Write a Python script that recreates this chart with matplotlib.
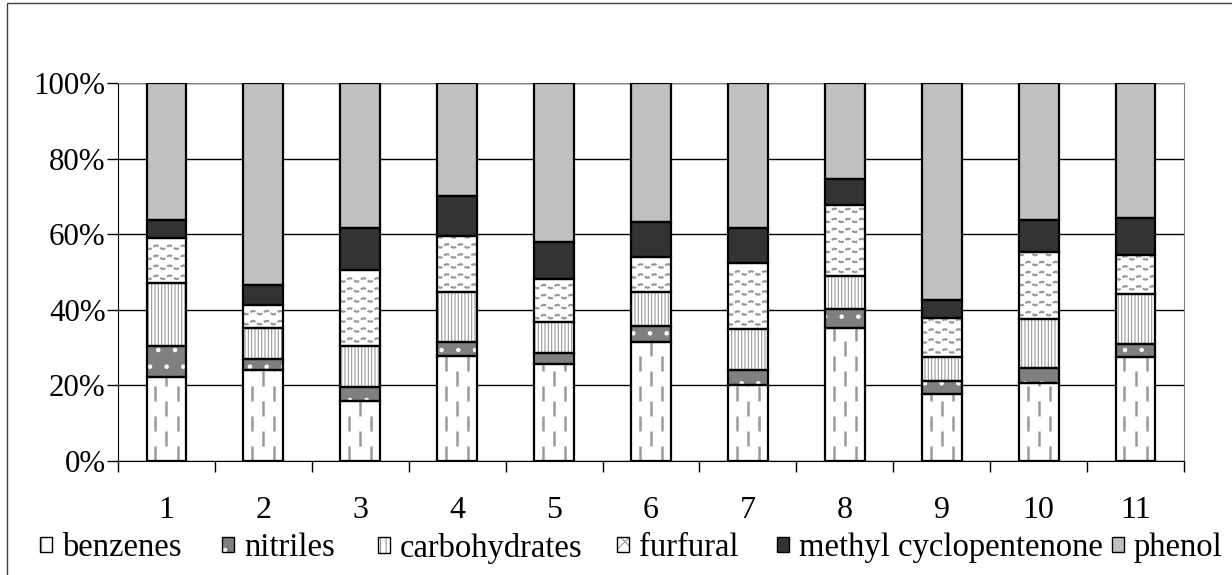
import numpy as np
import matplotlib
matplotlib.use('Agg')
import matplotlib.pyplot as plt
from matplotlib.patches import Patch, Rectangle
from matplotlib.legend_handler import HandlerTuple

plt.rcParams['font.family'] = ['Liberation Serif', 'DejaVu Serif']
plt.rcParams['font.size'] = 22.3
plt.rcParams['hatch.linewidth'] = 0.8

# sample numbers
samples = ['1', '2', '3', '4', '5', '6', '7', '8', '9', '10', '11']

# share of each compound group (%), bottom to top
benzenes = [22.3, 24.1, 16.0, 27.7, 25.7, 31.5, 20.1, 35.1, 17.8, 20.6, 27.6]
nitriles = [8.2, 2.9, 3.6, 3.8, 2.9, 4.2, 4.0, 5.0, 3.3, 4.1, 3.3]
carbohydrates = [16.6, 8.1, 10.9, 13.3, 8.1, 9.1, 10.9, 8.8, 6.5, 12.8, 13.4]
furfural = [11.9, 6.1, 20.0, 14.8, 11.4, 9.1, 17.3, 18.9, 10.3, 17.9, 10.2]
methyl_cyclopentenone = [4.8, 5.4, 11.1, 10.5, 9.9, 9.4, 9.3, 6.9, 4.7, 8.4, 9.9]
phenol = [36.2, 53.4, 38.4, 29.9, 42.0, 36.7, 38.4, 25.3, 57.4, 36.2, 35.6]

names = ['benzenes', 'nitriles', 'carbohydrates', 'furfural',
         'methyl cyclopentenone', 'phenol']
series = [benzenes, nitriles, carbohydrates, furfural,
          methyl_cyclopentenone, phenol]
fills = ['white', '#808080', 'white', 'white', '#333333', '#c0c0c0']
hatches = [None, '.', '|||||', None, None, None]
hatch_cols = ['#999999', 'white', '#999999', '#999999', '#333333', '#c0c0c0']

fig = plt.figure(figsize=(12.32, 5.75), dpi=100)
ax = fig.add_axes([118 / 1232, 1 - 461 / 575, (1184 - 118) / 1232, (461 - 83) / 575])

x = np.arange(len(samples))
width = 0.41
bottom = np.zeros(len(samples))
bar_groups = []
for vals, fc, h, hc in zip(series, fills, hatches, hatch_cols):
    vals = np.array(vals)
    ax.bar(x, vals, width, bottom=bottom, color=fc, hatch=h, edgecolor=hc,
           linewidth=0, zorder=2)
    bars = ax.bar(x, vals, width, bottom=bottom, fill=False, edgecolor='black',
                  linewidth=1.6, zorder=4)
    bar_groups.append((bars, bottom.copy(), vals))
    bottom += vals

# dashed texture for benzenes
bars, b0, vals = bar_groups[0]
for i, rect in enumerate(bars):
    for k, off in enumerate([0.22, 0.5, 0.78]):
        ln = ax.vlines(x[i] - width / 2 + off * width, b0[i], b0[i] + vals[i],
                       colors='#999999', linewidth=1.8, zorder=3,
                       linestyles=[(6 * (k % 2), (6, 6))])
        ln.set_clip_path(rect)

# wavy texture for furfural
bars, b0, vals = bar_groups[3]
for i, rect in enumerate(bars):
    xs = np.linspace(x[i] - width / 2, x[i] + width / 2, 80)
    for y0 in np.arange(b0[i] + 1.5, b0[i] + vals[i], 2.65):
        ln, = ax.plot(xs, y0 + 0.45 * np.sin((xs - x[i]) / 0.14 * 2 * np.pi),
                      color='#999999', linewidth=1.6, linestyle=(0, (2.5, 1)),
                      zorder=3)
        ln.set_clip_path(rect)

ax.set_xlim(-0.5, len(samples) - 0.5)
ax.set_ylim(0, 100)
ax.set_yticks(np.arange(0, 101, 20))
ax.set_yticklabels([f'{v}%' for v in range(0, 101, 20)])
ax.set_xticks(x)
ax.set_xticklabels(samples, fontsize=23)
ax.set_xticks(np.arange(-0.5, len(samples)), minor=True)
ax.tick_params(axis='x', which='major', length=0, pad=25)
ax.tick_params(axis='x', which='minor', length=8, width=1, color='black')
ax.tick_params(axis='y', length=8, width=1, pad=1)
ax.yaxis.grid(True, color='black', linewidth=1)
ax.set_axisbelow(True)
for s in ['top', 'right']:
    ax.spines[s].set_color('#808080')
for s in ['left', 'bottom']:
    ax.spines[s].set_color('black')

# legend entries sit at fixed spots along the bottom, like the original
leg_x = [40, 222, 378, 617, 777, 1112]
for fc, h, hc, name, lx in zip(fills, ['|', '.', '|||', 'xx', None, None],
                               hatch_cols, names, leg_x):
    handle = (Patch(facecolor=fc, hatch=h, edgecolor=hc, linewidth=0),
              Patch(fill=False, edgecolor='black', linewidth=1))
    fig.legend([handle], [name], loc='center left',
               bbox_to_anchor=(lx / 1232, 1 - 548 / 575), fontsize=23.5,
               frameon=False, handlelength=0.37, handleheight=0.37,
               handletextpad=0.3, borderpad=0, borderaxespad=0,
               handler_map={tuple: HandlerTuple(ndivide=1, pad=0)})

fig.patches.append(Rectangle((7 / 1232, -0.1), 2, 1.1 - 3 / 575, fill=False,
                             edgecolor='#404040', linewidth=1,
                             transform=fig.transFigure, figure=fig))

fig.savefig('out.png', dpi=100)
